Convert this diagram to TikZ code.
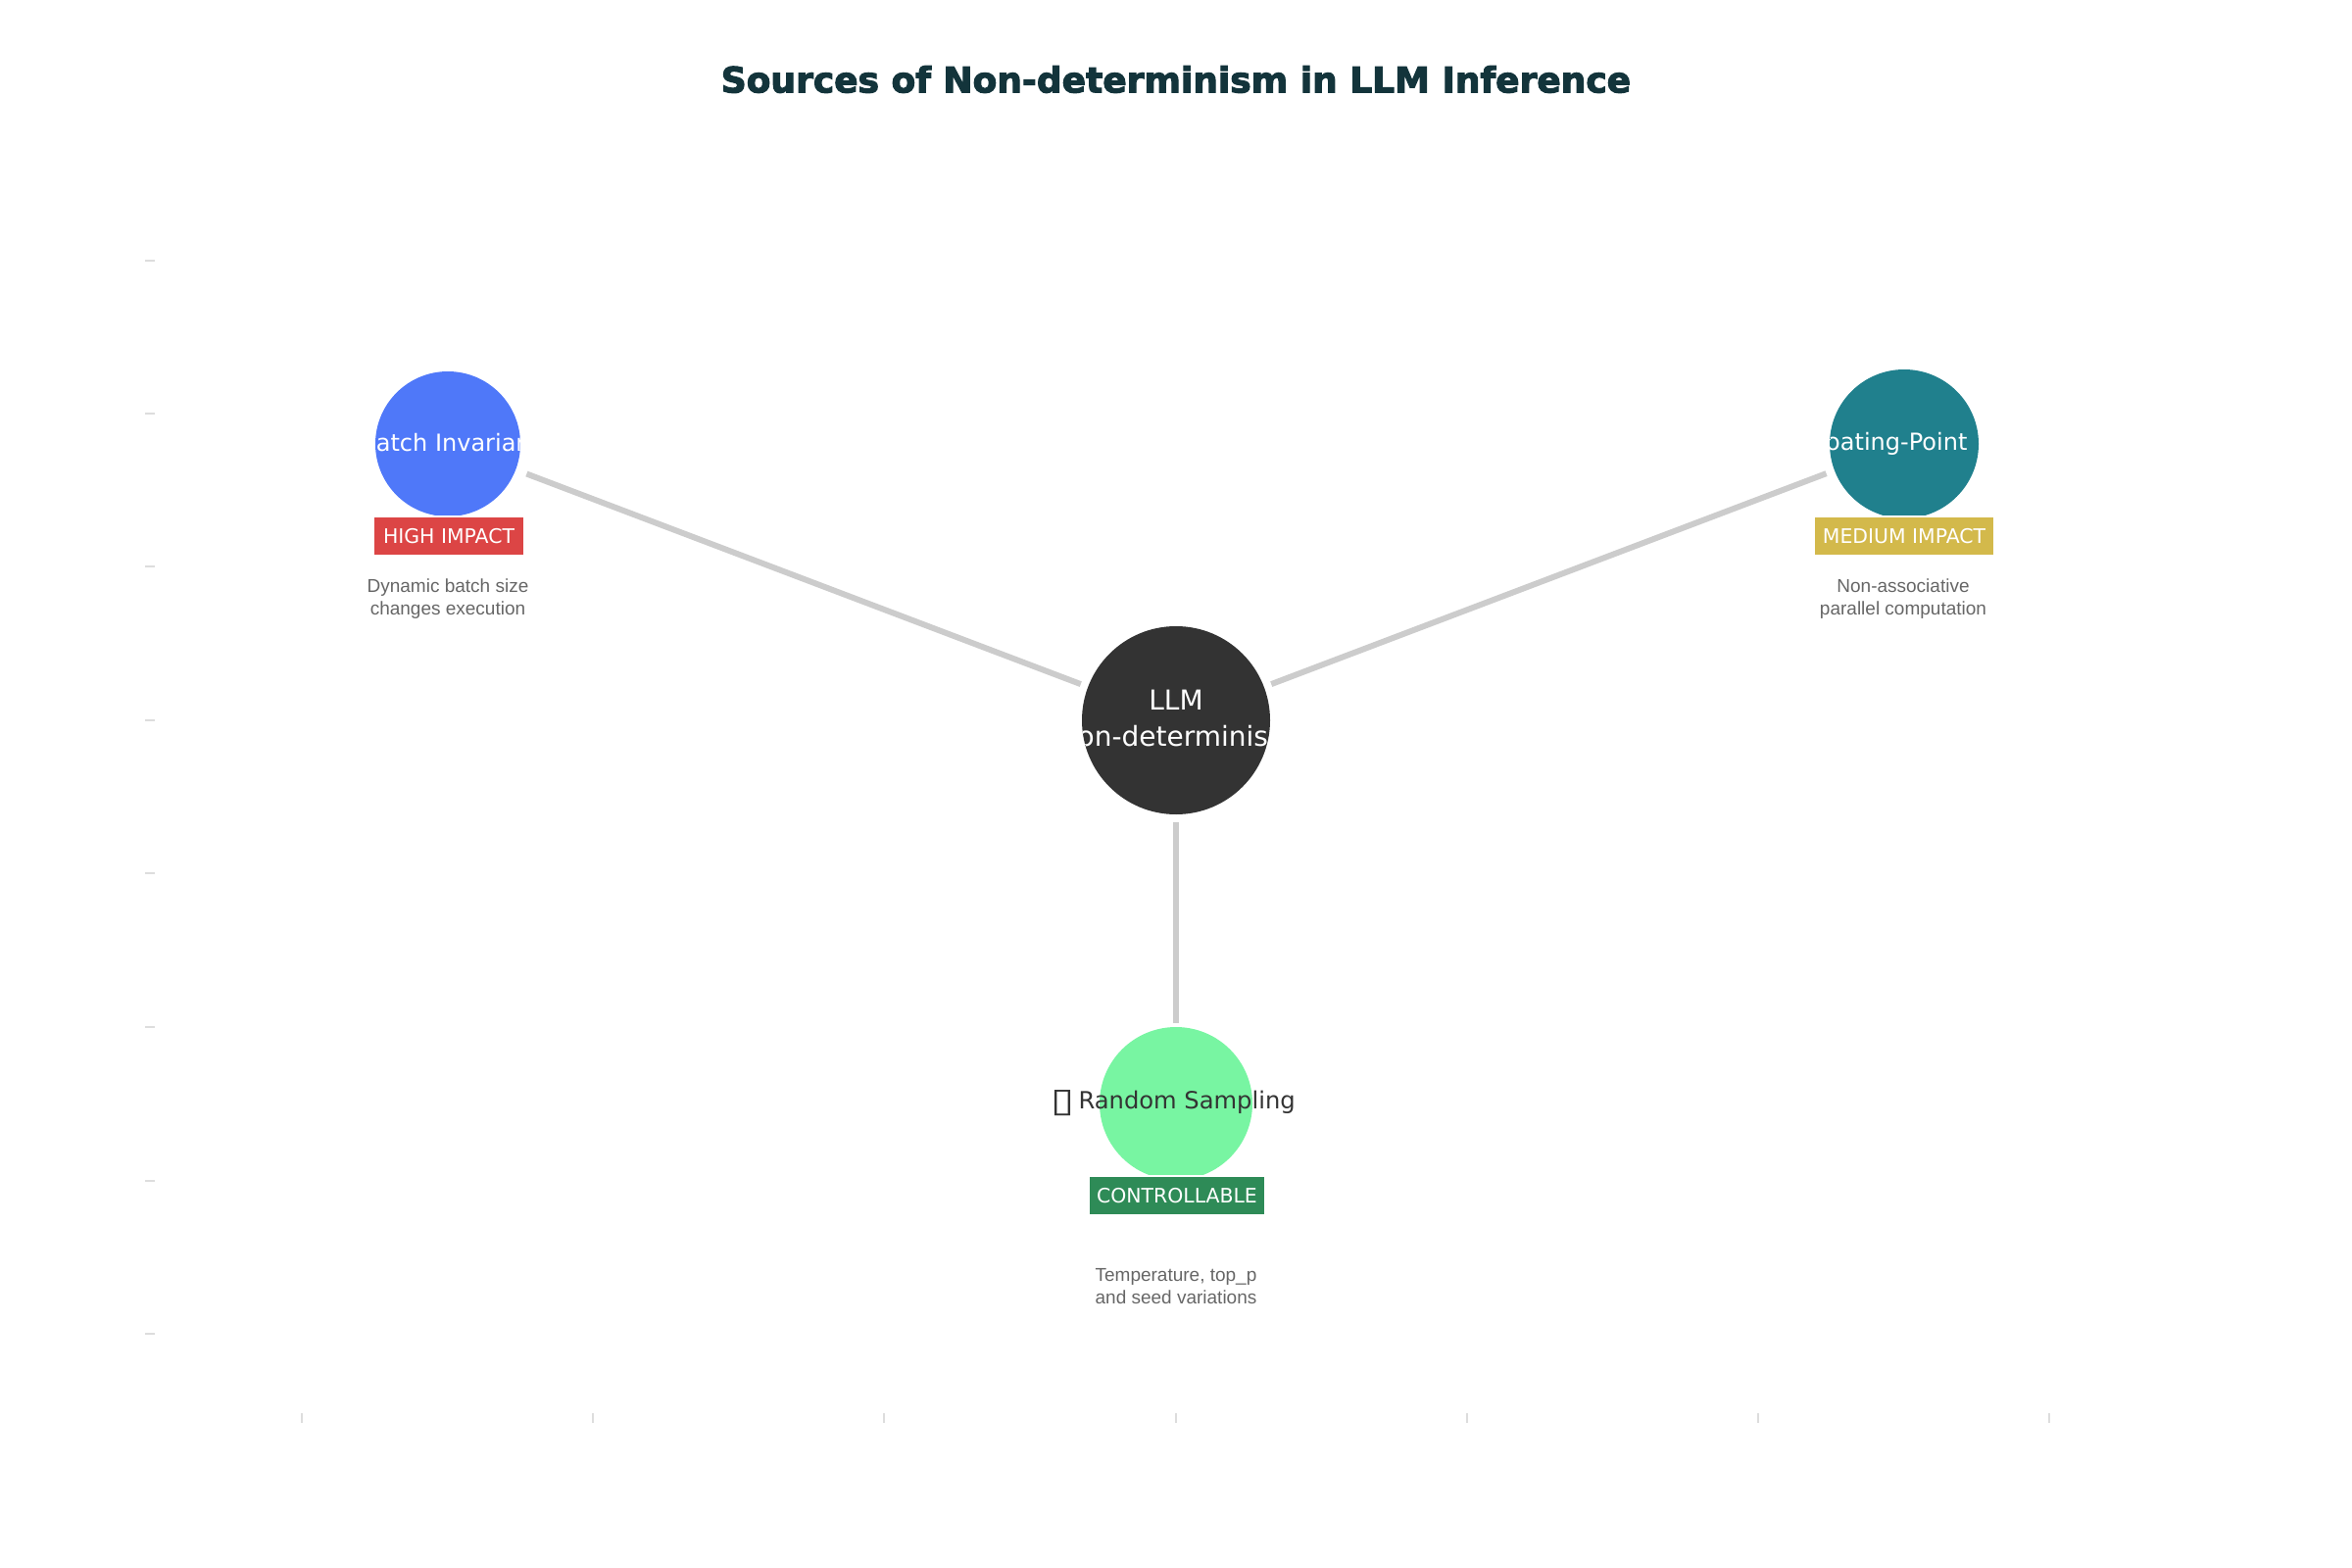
\documentclass[tikz,border=0pt]{standalone}
\usepackage{fontspec}
\setmainfont{DejaVu Sans}
\newfontfamily\descfont{Liberation Sans}
\newfontfamily\titlefont[FakeBold=3]{DejaVu Sans Bold}
\definecolor{hubc}{HTML}{333333}
\definecolor{bluec}{HTML}{4F78F9}
\definecolor{tealc}{HTML}{20808D}
\definecolor{greenc}{HTML}{78F5A2}
\definecolor{redc}{HTML}{DC4545}
\definecolor{yellowc}{HTML}{D3B94B}
\definecolor{dgreenc}{HTML}{2E8B57}
\definecolor{titlec}{HTML}{13343B}
\definecolor{linec}{HTML}{CCCCCC}
\definecolor{tickc}{HTML}{DDDDDD}
\definecolor{descc}{HTML}{666666}
\tikzset{
  disc/.style={circle,draw=none,inner sep=0pt,outer sep=0pt,minimum size=#1},
  labeltext/.style={text=white,font=\fontsize{12}{18.5}\selectfont,align=center,inner sep=0pt},
  hubtext/.style={labeltext,font=\fontsize{14}{18.5}\selectfont},
  badge/.style={draw=white,line width=1pt,inner sep=0pt,outer sep=0pt,text=white,minimum height=20pt,font=\fontsize{10.2}{12}\selectfont},
  desc/.style={text=descc,font=\descfont\fontsize{9.5}{11.5}\selectfont,align=center,inner sep=0pt},
  link/.style={draw=linec,line width=3pt},
  tick/.style={draw=tickc,line width=1pt}
}
\begin{document}
\begin{tikzpicture}[x=0.5pt,y=-0.5pt]
\useasboundingbox (0,0) rectangle (2400,1600);
% ticks
\foreach \yy in {265.5,422,578,735,891,1048,1204.5,1361}
  \draw[tick] (148,\yy) -- (158,\yy);
\foreach \xx in {308,605,902,1200,1497,1794,2091}
  \draw[tick] (\xx,1442) -- (\xx,1452);
% title
\node[text=titlec,font=\titlefont\fontsize{18}{22}\selectfont,inner sep=0pt] (title) at (1200,81) {Sources of Non-determinism in LLM Inference};
% circles
\node[disc=96pt,fill=hubc,path picture={
  \node[hubtext] at ([yshift=1pt]path picture bounding box.center) {LLM\\Non-determinism};}] (hub) at (1200,735) {};
\node[disc=74pt,fill=bluec,path picture={
  \node[labeltext,anchor=west] at ([xshift=-45pt,yshift=.5pt]path picture bounding box.center) {Batch Invariance};}] (batch) at (457,453) {};
\node[disc=76pt,fill=tealc,path picture={
  \node[labeltext,anchor=east] at ([xshift=32.5pt]path picture bounding box.center) {Floating-Point};}] (float) at (1943,453) {};
\node[disc=78pt,fill=greenc] (rand) at (1200,1126) {};
\node[labeltext,text=hubc,font=\fontsize{12.1}{18.5}\selectfont] (randlabel) at (1200,1126) {\kern-2.75pt\raisebox{-1.5pt}{\resizebox{12pt}{11pt}{▯}}\kern-2pt{} Random Sampling};
% connectors
\draw[link,shorten <=4pt,shorten >=6pt] (hub) -- (batch);
\draw[link,shorten <=4pt,shorten >=4.5pt] (hub) -- (float);
\draw[link,shorten <=4pt,shorten >=2pt] (hub) -- (rand);
% badges
\node[badge,fill=redc,minimum width=77pt] (b1) at (458,547) {HIGH IMPACT};
\node[badge,fill=yellowc,minimum width=92pt] (b2) at (1943,547) {MEDIUM IMPACT};
\node[badge,fill=dgreenc,minimum width=90pt] (b3) at (1201,1220) {CONTROLLABLE};
% descriptions
\node[desc] (d1) at (457,611) {Dynamic batch size\\changes execution};
\node[desc] (d2) at (1942,611) {Non-associative\\parallel computation};
\node[desc] (d3) at (1200,1313) {Temperature, top\_p\\and seed variations};
\end{tikzpicture}
\end{document}
